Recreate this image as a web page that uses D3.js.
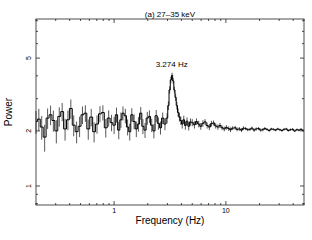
<!DOCTYPE html>
<html>
<head>
<meta charset="utf-8">
<script src="https://cdn.jsdelivr.net/npm/d3@7"></script>
<style>
  body { margin: 0; background: #fff; }
  svg { display: block; font-family: "Liberation Sans", Arial, sans-serif; }
</style>
</head>
<body>
<svg id="chart" width="312" height="240"></svg>
<script>
// power spectrum
const freq = [
  0.200, 0.212, 0.225, 0.239, 0.254, 0.270, 0.286, 0.304, 0.323, 0.343, 0.364, 0.386, 0.410, 0.435,
  0.462, 0.491, 0.521, 0.553, 0.587, 0.624, 0.662, 0.703, 0.747, 0.793, 0.842, 0.894, 0.949,
  1.00, 1.05, 1.10, 1.15, 1.20, 1.26, 1.32, 1.38, 1.44, 1.51, 1.58, 1.65, 1.73, 1.81, 1.89, 1.98,
  2.07, 2.17, 2.27, 2.38, 2.49, 2.60, 2.72, 2.85,
  2.98, 3.06, 3.14, 3.22, 3.30, 3.38, 3.46, 3.55, 3.64, 3.74, 3.84, 3.95, 4.07, 4.20, 4.34, 4.49, 4.65, 4.82,
  5.00, 5.23, 5.46, 5.71, 5.96, 6.23, 6.51, 6.80, 7.11, 7.43, 7.76, 8.11, 8.48, 8.86, 9.26, 9.67,
  10.1, 10.6, 11.0, 11.5, 12.1, 12.6, 13.2, 13.8, 14.4, 15.0, 15.7, 16.4, 17.1, 17.9, 18.7, 19.6,
  20.5, 21.4, 22.3, 23.3, 24.4, 25.5, 26.6, 27.8, 29.1, 30.4, 31.7, 33.2, 34.7, 36.2, 37.8, 39.5,
  41.3, 43.2, 45.1, 47.1, 49.3
];
const power = [
  2.25, 2.32, 2.10, 1.85, 2.35, 2.45, 2.28, 2.00, 2.40, 2.55, 2.05, 2.30, 2.65, 2.15,
  1.98, 2.12, 2.45, 2.50, 2.05, 2.38, 1.98, 2.18, 2.48, 2.52, 2.08, 2.35, 2.22,
  2.15, 2.45, 2.02, 2.30, 2.50, 2.42, 2.10, 1.98, 2.45, 2.25, 2.05, 2.18, 2.50, 2.12, 2.02, 2.35,
  2.40, 2.15, 2.00, 2.42, 2.20, 2.08, 2.35, 2.18,
  2.35, 2.75, 3.35, 3.80, 4.02, 3.75, 3.35, 3.05, 2.75, 2.52, 2.38, 2.28, 2.18, 2.30, 2.14, 2.26, 2.12, 2.24,
  2.22, 2.16, 2.25, 2.18, 2.12, 2.20, 2.24, 2.14, 2.10, 2.19, 2.21, 2.13, 2.10, 2.14, 2.08, 2.05,
  2.09, 2.06, 2.03, 2.07, 2.08, 2.04, 2.05, 2.02, 2.07, 2.06, 2.03, 2.04, 2.07, 2.02, 2.05, 2.06,
  2.02, 2.03, 2.06, 2.04, 2.01, 2.05, 2.04, 2.02, 2.05, 2.03, 2.01, 2.04, 2.05, 2.01, 2.03, 2.04,
  2.00, 2.03, 2.02, 2.04, 2.01
];
const err = [
  0.32, 0.32, 0.31, 0.31, 0.30, 0.30, 0.30, 0.29, 0.29, 0.29, 0.28, 0.28, 0.32, 0.28,
  0.27, 0.27, 0.27, 0.26, 0.26, 0.26, 0.25, 0.25, 0.25, 0.24, 0.24, 0.24, 0.23,
  0.23, 0.23, 0.22, 0.22, 0.22, 0.22, 0.21, 0.21, 0.21, 0.21, 0.20, 0.20, 0.20, 0.20, 0.19, 0.19,
  0.19, 0.18, 0.18, 0.18, 0.17, 0.17, 0.17, 0.16,
  0.15, 0.15, 0.15, 0.15, 0.14, 0.14, 0.14, 0.14, 0.13, 0.13, 0.13, 0.12, 0.12, 0.12, 0.11, 0.11, 0.11, 0.10,
  0.10, 0.10, 0.09, 0.09, 0.09, 0.09, 0.08, 0.08, 0.08, 0.08, 0.07, 0.07, 0.07, 0.07, 0.06, 0.06,
  0.06, 0.06, 0.06, 0.05, 0.05, 0.05, 0.05, 0.05, 0.05, 0.04, 0.04, 0.04, 0.04, 0.04, 0.04, 0.04,
  0.04, 0.04, 0.04, 0.03, 0.03, 0.03, 0.03, 0.03, 0.03, 0.03, 0.03, 0.03, 0.03, 0.03, 0.03, 0.03,
  0.03, 0.03, 0.03, 0.03, 0.03
];

const xMajor = [1, 10];
const xMinor = [0.2, 0.3, 0.4, 0.5, 0.6, 0.7, 0.8, 0.9, 2, 3, 4, 5, 6, 7, 8, 9, 20, 30, 40, 50];
const yMajor = [1, 2, 5];
const yMinor = [0.8, 0.9, 3, 4, 6, 7, 8];

const titleText = "(a) 27\u201335 keV";
const peakLabel = "3.274 Hz";
const peakFreq = 3.274;
const peakPower = 4.02;

const svg = d3.select("#chart");
const mLeft = 36, mRight = 304, mTop = 19, mBottom = 205;

const x = d3.scaleLog().domain([0.2, 50]).range([mLeft, mRight]);
const y = d3.scaleLog().domain([0.787, 8.18]).range([mBottom, mTop]);

const pts = freq.map((f, i) => ({ f: f, p: power[i], e: err[i] }));

const plot = svg.append("g");

// error bars
plot.append("g")
  .selectAll("line")
  .data(pts)
  .join("line")
  .attr("x1", d => x(d.f))
  .attr("x2", d => x(d.f))
  .attr("y1", d => y(d.p - d.e))
  .attr("y2", d => y(d.p + d.e))
  .attr("stroke", "#444")
  .attr("stroke-width", 0.9);

// histogram steps
plot.append("path")
  .datum(pts)
  .attr("fill", "none")
  .attr("stroke", "#000")
  .attr("stroke-width", 1)
  .attr("d", d3.line().x(d => x(d.f)).y(d => y(d.p)).curve(d3.curveStep));

// frame
svg.append("rect")
  .attr("x", mLeft).attr("y", mTop)
  .attr("width", mRight - mLeft).attr("height", mBottom - mTop)
  .attr("fill", "none").attr("stroke", "#222").attr("stroke-width", 0.8);

// ticks on all four sides, pointing inward
const tickG = svg.append("g").attr("stroke", "#222").attr("stroke-width", 0.8);
function xTicks(vals, len) {
  vals.forEach(v => {
    tickG.append("line").attr("x1", x(v)).attr("x2", x(v)).attr("y1", mBottom).attr("y2", mBottom - len);
    tickG.append("line").attr("x1", x(v)).attr("x2", x(v)).attr("y1", mTop).attr("y2", mTop + len);
  });
}
function yTicks(vals, len) {
  vals.forEach(v => {
    tickG.append("line").attr("y1", y(v)).attr("y2", y(v)).attr("x1", mLeft).attr("x2", mLeft + len);
    tickG.append("line").attr("y1", y(v)).attr("y2", y(v)).attr("x1", mRight).attr("x2", mRight - len);
  });
}
xTicks(xMajor, 4);
xTicks(xMinor, 2);
yTicks(yMajor, 4);
yTicks(yMinor, 2);

// tick labels
svg.append("g")
  .selectAll("text")
  .data(xMajor)
  .join("text")
  .attr("x", d => x(d))
  .attr("y", 213)
  .attr("text-anchor", "middle")
  .attr("font-size", 7)
  .text(d => d);

svg.append("g")
  .selectAll("text")
  .data(yMajor)
  .join("text")
  .attr("transform", d => `translate(31,${y(d)}) rotate(-90)`)
  .attr("text-anchor", "middle")
  .attr("font-size", 7)
  .text(d => d);

// axis titles
svg.append("text")
  .attr("x", (mLeft + mRight) / 2)
  .attr("y", 224)
  .attr("text-anchor", "middle")
  .attr("font-size", 10)
  .text("Frequency (Hz)");

svg.append("text")
  .attr("transform", `translate(12,${(mTop + mBottom) / 2}) rotate(-90)`)
  .attr("text-anchor", "middle")
  .attr("font-size", 10)
  .text("Power");

svg.append("text")
  .attr("x", (mLeft + mRight) / 2)
  .attr("y", 16.5)
  .attr("text-anchor", "middle")
  .attr("font-size", 8)
  .text(titleText);

svg.append("text")
  .attr("x", x(peakFreq))
  .attr("y", y(peakPower) - 8)
  .attr("text-anchor", "middle")
  .attr("font-size", 8)
  .text(peakLabel);
</script>
</body>
</html>
